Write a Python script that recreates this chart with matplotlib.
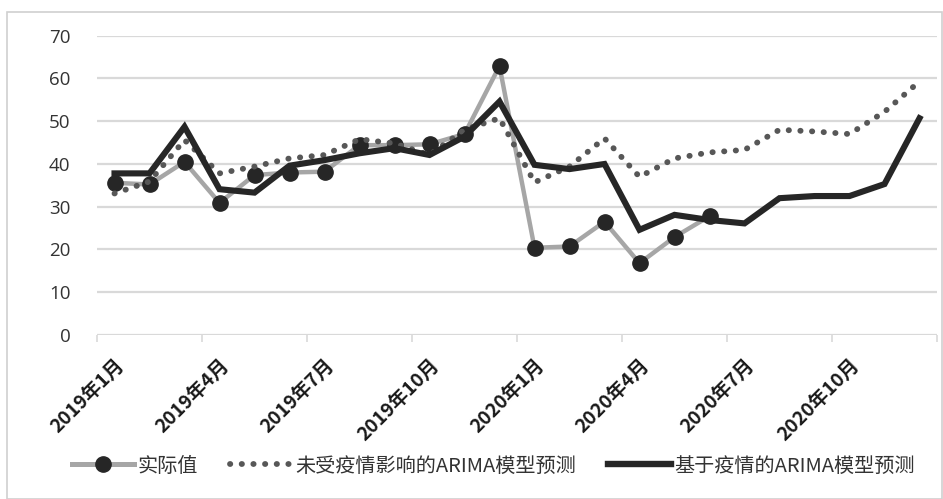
import matplotlib
matplotlib.use("Agg")
import matplotlib.pyplot as plt
from matplotlib.lines import Line2D
from matplotlib.patches import Rectangle

plt.rcParams['font.family'] = ['Noto Sans CJK SC', 'DejaVu Sans']

months = [f"2019年{m}月" for m in range(1, 13)] + [f"2020年{m}月" for m in range(1, 13)]
tick_labels = ["2019年1月", "2019年4月", "2019年7月", "2019年10月",
               "2020年1月", "2020年4月", "2020年7月", "2020年10月"]

actual = [35.6, 35.2, 40.5, 30.9, 37.4, 38.0, 38.2, 44.4, 44.4, 44.6, 47.0, 62.9,
          20.4, 20.7, 26.5, 16.8, 22.9, 27.8]
arima_no_covid = [33.1, 35.9, 45.6, 37.8, 39.4, 41.3, 42.1, 45.8, 44.8, 42.1, 48.0, 50.7,
                  35.7, 39.4, 46.0, 37.0, 41.3, 42.7, 43.3, 48.0, 47.6, 47.0, 52.2, 59.3]
arima_covid = [37.8, 37.8, 48.7, 34.1, 33.3, 39.6, 40.9, 42.5, 43.7, 42.1, 46.4, 54.6,
               39.8, 38.8, 40.0, 24.6, 28.1, 26.9, 26.1, 32.0, 32.5, 32.5, 35.3, 50.7]
y_ticks = [0, 10, 20, 30, 40, 50, 60, 70]

label_actual = "实际值"
label_no_covid = "未受疫情影响的ARIMA模型预测"
label_covid = "基于疫情的ARIMA模型预测"

GRAY = "#a6a6a6"
DOT = "#575757"
DARK = "#262626"
DOT_STYLE = (0, (0.05, 1.95))

W, H = 943, 499
fig = plt.figure(figsize=(W / 100, H / 100), dpi=100)
ax = fig.add_axes([97 / W, 1 - 335 / H, (937 - 97) / W, (335 - 35.7) / H])

x_all = list(range(len(months)))
x_act = x_all[:len(actual)]

ax.plot(x_act, actual, color=GRAY, lw=3.2, marker="o", markersize=11,
        markerfacecolor=DARK, markeredgecolor=DARK, zorder=3)
ax.plot(x_all, arima_no_covid, color=DOT, lw=4.2, linestyle=DOT_STYLE,
        dash_capstyle="round", zorder=4)
ax.plot(x_all, arima_covid, color=DARK, lw=4.4, solid_joinstyle="miter", zorder=5)

ax.set_xlim(-0.5, len(months) - 0.5)
ax.set_ylim(0, 70)
ax.set_yticks(y_ticks)
ax.yaxis.grid(True, color="#d9d9d9", lw=1.6)
ax.set_axisbelow(True)
for s in ax.spines.values():
    s.set_visible(False)
ax.tick_params(axis="y", length=0, pad=19, labelsize=13.5, labelcolor="#333333")
for t in ax.get_yticklabels():
    t.set_family(['Open Sans', 'DejaVu Sans'])

major = [months.index(t) for t in tick_labels]
ax.set_xticks(major)
ax.set_xticklabels(tick_labels, rotation=45, ha="right", rotation_mode="anchor",
                   fontsize=13.8, fontweight="bold", color="#1a1a1a")
ax.tick_params(axis="x", which="major", length=0, pad=15)
ax.set_xticks([b - 0.5 for b in range(0, len(months) + 1, 3)], minor=True)
ax.tick_params(axis="x", which="minor", length=5, width=1.2, color="#d9d9d9")

handles = [
    Line2D([], [], color=GRAY, lw=3.6, marker="o", markersize=11,
           markerfacecolor=DARK, markeredgecolor=DARK),
    Line2D([], [], color=DOT, lw=4.2, linestyle=DOT_STYLE, dash_capstyle="round"),
    Line2D([], [], color=DARK, lw=4.6),
]
fig.legend(handles, [label_actual, label_no_covid, label_covid], loc="center",
           bbox_to_anchor=(0.523, 1 - 466 / H), ncol=3, frameon=False,
           fontsize=14.5, handlelength=3.1, handletextpad=0.15, columnspacing=1.6,
           labelcolor="#333333")

fig.patches.append(Rectangle((7 / W, 0.5 / H), (942 - 7) / W, (487 - 0.5) / H,
                             transform=fig.transFigure, fill=False,
                             edgecolor="#d0d0d0", lw=1.2))

fig.savefig("out.png", dpi=100, facecolor="white")
